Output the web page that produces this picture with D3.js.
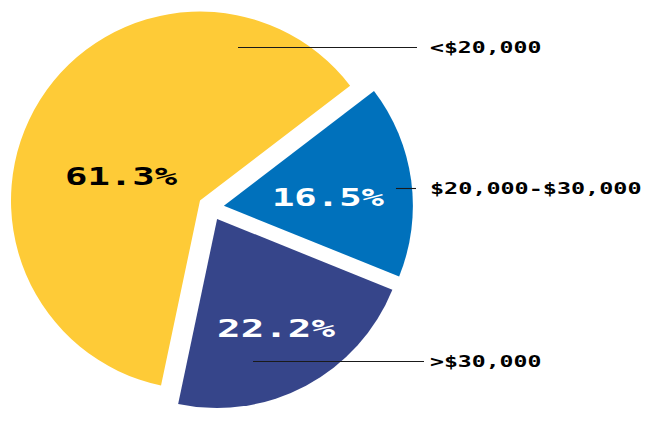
<!DOCTYPE html>
<html><head><meta charset="utf-8">
<script src="https://cdn.jsdelivr.net/npm/d3@7"></script>
<style>html,body{margin:0;padding:0;background:#fff}</style>
</head><body>
<svg id="c" width="650" height="425"></svg>
<script>
const categories = ["<$20,000", "$20,000-$30,000", ">$30,000"];
const values = [61.3, 16.5, 22.2];
const valueLabels = ["61.3%", "16.5%", "22.2%"];
const colors = ["#FECB37", "#0071BC", "#36458A"];
const textColors = ["#000000", "#FFFFFF", "#FFFFFF"];

// layout
const cx = 211, cy = 207.5, R = 189, explode = 13;
const startDeg = -168.1;
const pctLayout = [[-72.7, 82.7], [84.9, 104.5], [151.6, 123.9]]; // [angle deg, dist] from slice apex
const pctWidths = [112, 112, 118];
const leaderLayout = [[13.9, 158.2], [84.1, 173], [165.8, 146.5]];
const leaderEndX = [417, 416, 424];
const catX = 430;

const rad = d => d * Math.PI / 180;
const svg = d3.select("#c");
const g = svg.append("g").attr("transform", `translate(${cx},${cy})`);

const pie = d3.pie().sort(null).value(d => d)
  .startAngle(rad(startDeg)).endAngle(rad(startDeg + 360));
const arcs = pie(values);
const arc = d3.arc().innerRadius(0).outerRadius(R);

arcs.forEach((a, i) => {
  const mid = (a.startAngle + a.endAngle) / 2;
  const [ox, oy] = d3.pointRadial(mid, explode);
  const sg = g.append("g").attr("transform", `translate(${ox},${oy})`);
  sg.append("path").attr("d", arc(a)).attr("fill", colors[i]);

  // leader line
  const [lx, ly] = d3.pointRadial(rad(leaderLayout[i][0]), leaderLayout[i][1]);
  const ay = Math.round(cy + oy + ly) + 0.5;
  svg.append("line")
    .attr("x1", cx + ox + lx).attr("y1", ay)
    .attr("x2", leaderEndX[i]).attr("y2", ay)
    .attr("stroke", "#1a1a1a").attr("stroke-width", 1.1);
  const fsS = 15;
  svg.append("text")
    .attr("x", catX).attr("y", ay + fsS * 0.729 / 2)
    .attr("font-family", "DejaVu Sans Mono").attr("font-weight", "bold")
    .attr("font-size", fsS).attr("fill", "#000")
    .attr("textLength", categories[i].length * 14.3 - 3)
    .attr("lengthAdjust", "spacingAndGlyphs")
    .text(categories[i]);

  // percent label
  const [px, py] = d3.pointRadial(rad(pctLayout[i][0]), pctLayout[i][1]);
  const fsB = 25;
  sg.append("text")
    .attr("x", px).attr("y", py + fsB * 0.729 / 2)
    .attr("text-anchor", "middle")
    .attr("font-family", "DejaVu Sans Mono").attr("font-weight", "bold")
    .attr("font-size", fsB).attr("fill", textColors[i])
    .attr("textLength", pctWidths[i])
    .attr("lengthAdjust", "spacingAndGlyphs")
    .text(valueLabels[i]);
});
</script>
</body></html>
